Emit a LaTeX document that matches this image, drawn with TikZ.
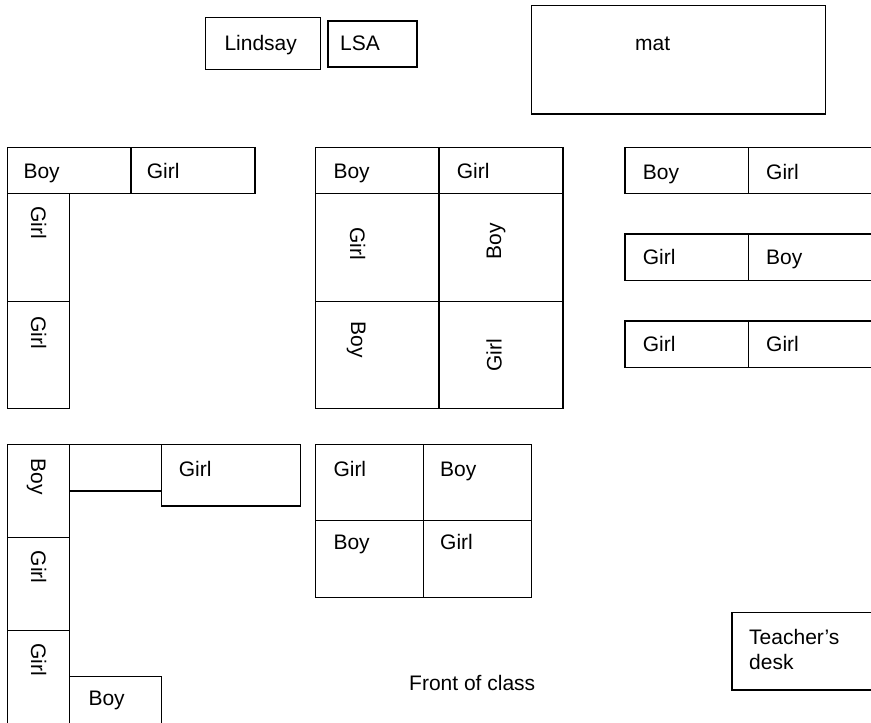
\documentclass[tikz,border=0pt]{standalone}
\usepackage{fontspec}
\setmainfont{Liberation Sans}
\begin{document}
\begin{tikzpicture}[x=1pt,y=-1pt,
  desk/.style={draw=black, line width=1.1pt},
  lbl/.style={inner sep=0pt, anchor=base west, font=\fontsize{21}{25}\selectfont},
  down/.style={lbl, rotate=-90},
  up/.style={lbl, rotate=90}]
\useasboundingbox (0,0) rectangle (871,723);

% top items
\draw[desk] (205.7,17.3) rectangle (320.7,69.3);
\draw[desk] (328,21) rectangle (417,67);
\draw[desk] (531.7,5.7) rectangle (825.3,114);
\node[lbl] (lindsay) at (224.3,50.7) {Lindsay};
\node[lbl] (lsa) at (340,50) {LSA};
\node[lbl] (mat) at (635,50) {mat};

% top-left group
\draw[desk] (7.5,147.5) rectangle (131,193.7);
\draw[desk] (131,147.5) rectangle (255,193.7);
\draw[desk] (7.5,193.7) rectangle (69.5,301.7);
\draw[desk] (7.5,301.7) rectangle (69.5,408.7);
\node[lbl] (tl1) at (23.3,178.3) {Boy};
\node[lbl] (tl2) at (146.7,178.3) {Girl};
\node[down] (tl3) at (31,206) {Girl};
\node[down] (tl4) at (31,316) {Girl};

% top-middle group
\draw[desk] (315.5,147.5) rectangle (563,408.7);
\draw[desk] (315.5,193.7) -- (563,193.7);
\draw[desk] (315.5,301.7) -- (563,301.7);
\draw[desk] (439,147.5) -- (439,408.7);
\node[lbl] (tm1) at (333.3,178.3) {Boy};
\node[lbl] (tm2) at (456.7,178.3) {Girl};
\node[down] (tm3) at (350,227.3) {Girl};
\node[up] (tm4) at (501,259.3) {Boy};
\node[down] (tm5) at (351,321.7) {Boy};
\node[up] (tm6) at (501.5,371.7) {Girl};

% top-right group
\draw[desk] (625,147.3) rectangle (876,193.7);
\draw[desk] (748.7,147.3) -- (748.7,193.7);
\draw[desk] (625,234) rectangle (876,280.3);
\draw[desk] (748.7,234) -- (748.7,280.3);
\draw[desk] (625,321) rectangle (876,367.7);
\draw[desk] (748.7,321) -- (748.7,367.7);
\node[lbl] (tr1) at (642.7,179) {Boy};
\node[lbl] (tr2) at (766,179) {Girl};
\node[lbl] (tr3) at (642.7,264.3) {Girl};
\node[lbl] (tr4) at (766,264.3) {Boy};
\node[lbl] (tr5) at (642.7,351.7) {Girl};
\node[lbl] (tr6) at (766,351.7) {Girl};

% bottom-left group
\draw[desk] (7.5,444.3) rectangle (69.5,537.7);
\draw[desk] (7.5,537.7) rectangle (69.5,630.3);
\draw[desk] (7.5,630.3) rectangle (69.5,726);
\draw[desk] (69.5,444.3) rectangle (161.7,491);
\draw[desk] (161.7,444.3) rectangle (300.7,506);
\draw[desk] (69.5,676.7) rectangle (161.7,726);
\node[down] (bl1) at (31,458.3) {Boy};
\node[down] (bl2) at (31,550.7) {Girl};
\node[down] (bl3) at (31,643.3) {Girl};
\node[lbl] (bl4) at (178.7,476) {Girl};
\node[lbl] (bl5) at (88.3,705) {Boy};

% bottom-middle group
\draw[desk] (315.7,444.7) rectangle (531.7,597.7);
\draw[desk] (315.7,520.7) -- (531.7,520.7);
\draw[desk] (423.7,444.7) -- (423.7,597.7);
\node[lbl] (bm1) at (333.3,476.7) {Girl};
\node[lbl] (bm2) at (440,476.7) {Boy};
\node[lbl] (bm3) at (333.3,549) {Boy};
\node[lbl] (bm4) at (440,549) {Girl};

% teacher's desk and front
\draw[desk] (732,612.7) rectangle (880,690);
\node[lbl] (teach1) at (749,644.3) {Teacher’s};
\node[lbl] (teach2) at (749,669) {desk};
\node[lbl] (front) at (409,690) {Front of class};
\end{tikzpicture}
\end{document}
